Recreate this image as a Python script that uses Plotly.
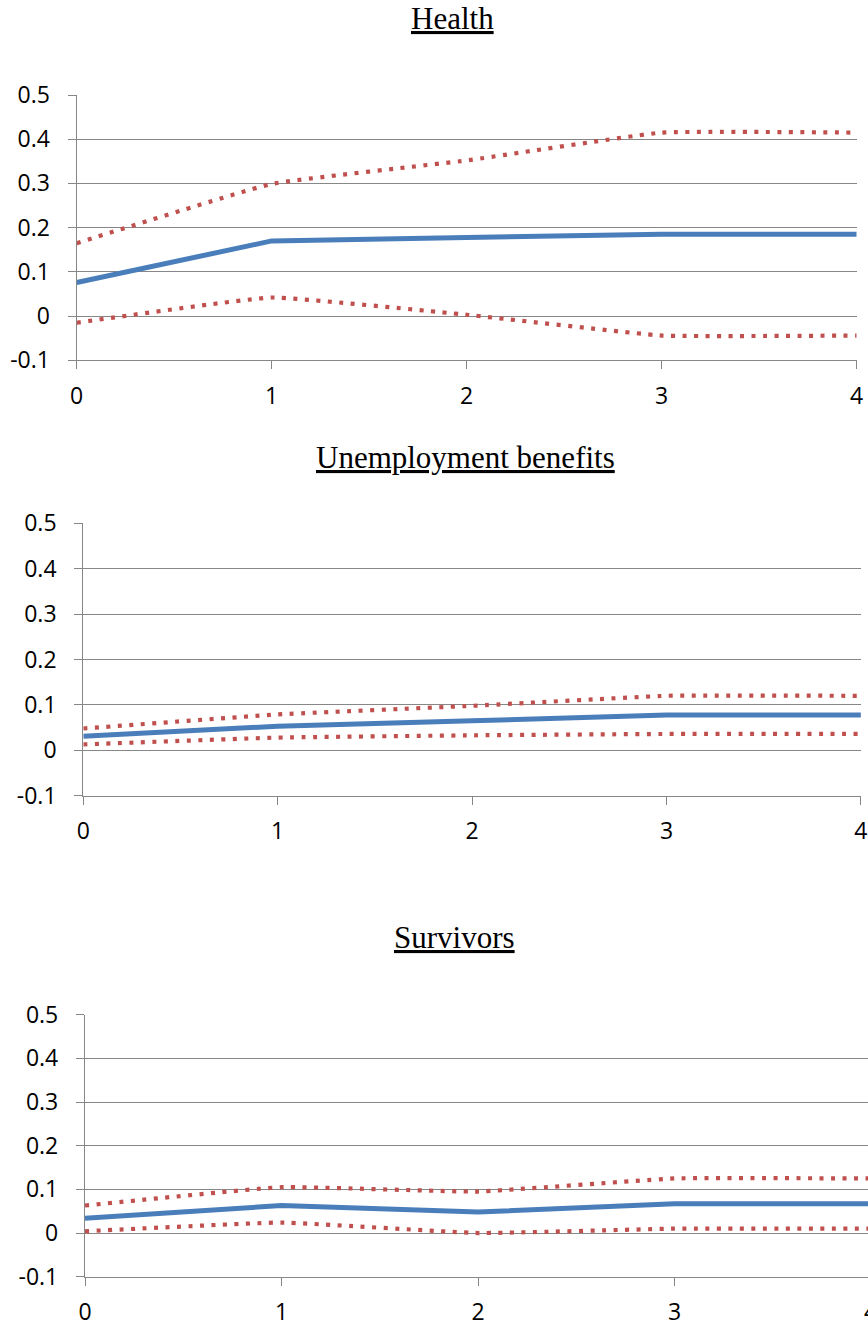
import plotly.graph_objects as go

# Horizon (years) and impulse responses with confidence bands
horizon = [0, 1, 2, 3, 4]

health_est = [0.076, 0.170, 0.178, 0.185, 0.185]
health_hi = [0.165, 0.299, 0.352, 0.415, 0.415]
health_lo = [-0.015, 0.042, 0.003, -0.044, -0.044]

unemp_est = [0.031, 0.053, 0.065, 0.078, 0.078]
unemp_hi = [0.048, 0.079, 0.098, 0.120, 0.120]
unemp_lo = [0.013, 0.028, 0.033, 0.036, 0.036]

surv_est = [0.034, 0.063, 0.048, 0.067, 0.067]
surv_hi = [0.063, 0.105, 0.095, 0.125, 0.125]
surv_lo = [0.004, 0.024, 0.000, 0.010, 0.010]

titles = ["Health", "Unemployment benefits", "Survivors"]
y_tickvals = [-0.1, 0, 0.1, 0.2, 0.3, 0.4, 0.5]
y_ticktext = ["-0.1", "0", "0.1", "0.2", "0.3", "0.4", "0.5"]
x_tickvals = [0, 1, 2, 3, 4]
x_ticktext = ["0", "1", "2", "3", "4"]

W, H = 868, 1326
BLUE = "#4A7EBB"
RED = "#C0504D"
GRID = "#878787"
TICK_FONT = dict(family="Open Sans, Arial, sans-serif", size=23, color="#000000")
TITLE_FONT = dict(family="Liberation Serif, Times New Roman, serif", size=31, color="#000000")

# panel geometry in pixels: (x of 0, px per unit, y of 0.5, y of -0.1)
panels = [
    dict(est=health_est, hi=health_hi, lo=health_lo, x0=76.7, xu=195.0, ytop=95.0, ybot=360.3,
         tx=452.5, ty=19),
    dict(est=unemp_est, hi=unemp_hi, lo=unemp_lo, x0=83.3, xu=194.4, ytop=523.3, ybot=795.7,
         tx=465, ty=457),
    dict(est=surv_est, hi=surv_hi, lo=surv_lo, x0=85.0, xu=196.5, ytop=1014.7, ybot=1276.7,
         tx=454, ty=937.5),
]

fig = go.Figure()
layout = dict(
    width=W, height=H, margin=dict(l=0, r=0, t=0, b=0, pad=0, autoexpand=False),
    paper_bgcolor="white", plot_bgcolor="white", showlegend=False,
    annotations=[],
)

for i, p in enumerate(panels, start=1):
    sfx = "" if i == 1 else str(i)
    xa, ya = "x" + sfx, "y" + sfx
    x_end = min(p["x0"] + 4 * p["xu"], W)
    xmax = (x_end - p["x0"]) / p["xu"]

    for band in (p["hi"], p["lo"]):
        fig.add_trace(go.Scatter(
            x=horizon, y=band, mode="lines", xaxis=xa, yaxis=ya,
            line=dict(color=RED, width=4.2, dash="4px,7.5px", shape="spline", smoothing=0.3),
            hoverinfo="skip",
        ))
    fig.add_trace(go.Scatter(
        x=horizon, y=p["est"], mode="lines", xaxis=xa, yaxis=ya,
        line=dict(color=BLUE, width=5), hoverinfo="skip",
    ))

    layout["xaxis" + sfx] = dict(
        domain=[p["x0"] / W, x_end / W], range=[0, xmax], anchor=ya,
        tickvals=x_tickvals, ticktext=x_ticktext, tickfont=TICK_FONT,
        showgrid=False, zeroline=False, showline=True, linecolor=GRID, linewidth=1.3,
        ticks="outside", ticklen=8, tickcolor=GRID, tickwidth=1.3,
        ticklabelstandoff=7, automargin=False, fixedrange=True,
    )
    layout["yaxis" + sfx] = dict(
        domain=[1 - p["ybot"] / H, 1 - p["ytop"] / H], range=[-0.1, 0.5], anchor=xa,
        tickvals=y_tickvals, ticktext=y_ticktext, tickfont=TICK_FONT,
        showgrid=True, gridcolor=GRID, gridwidth=1.3, zeroline=False,
        showline=True, linecolor=GRID, linewidth=1.3,
        ticks="outside", ticklen=8, tickcolor=GRID, tickwidth=1.3,
        ticklabelstandoff=13, automargin=False, fixedrange=True,
    )
    layout["annotations"].append(dict(
        text="<u>" + titles[i - 1] + "</u>", xref="paper", yref="paper",
        x=p["tx"] / W, y=1 - p["ty"] / H, xanchor="center", yanchor="middle",
        showarrow=False, font=TITLE_FONT,
    ))
    if xmax < 4:
        # last horizon label sits just past the right edge of the page
        x4 = p["x0"] + 4 * p["xu"]
        layout["annotations"].append(dict(
            text=x_ticktext[-1], xref="paper", yref="paper",
            x=x4 / W, y=1 - (p["ybot"] + 34) / H,
            xanchor="center", yanchor="middle", showarrow=False,
            font=TICK_FONT,
        ))

fig.update_layout(**layout)
fig.write_html("out.html")
